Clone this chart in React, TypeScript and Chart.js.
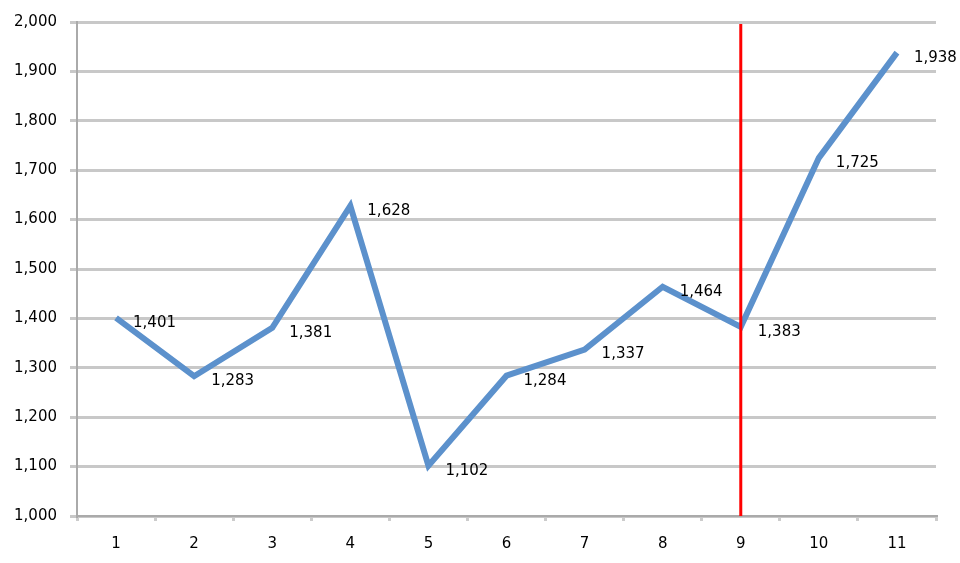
import React, { useEffect, useRef } from "react";
import { Chart, registerables } from "chart.js";

Chart.register(...registerables);

const categories = ["1", "2", "3", "4", "5", "6", "7", "8", "9", "10", "11"];
const values = [1401, 1283, 1381, 1628, 1102, 1284, 1337, 1464, 1383, 1725, 1938];
const markerCategory = "9";
const yMin = 1000;
const yMax = 2000;
const yStep = 100;

const FONT = "'DejaVu Sans', Verdana, sans-serif";

const fmt = (v: number) => v.toLocaleString("en-US");

const overlayPlugin = {
  id: "overlay",
  afterDatasetsDraw(chart: any) {
    const { ctx, chartArea, scales } = chart;
    const x = scales.x;
    const y = scales.y;
    ctx.save();
    // red marker line
    const idx = categories.indexOf(markerCategory);
    const mx = x.getPixelForValue(idx);
    ctx.strokeStyle = "#ff0000";
    ctx.lineWidth = 3;
    ctx.beginPath();
    ctx.moveTo(mx, chartArea.top + 2);
    ctx.lineTo(mx, chartArea.bottom);
    ctx.stroke();
    // data labels
    ctx.fillStyle = "#000";
    ctx.font = `15px ${FONT}`;
    ctx.textAlign = "left";
    ctx.textBaseline = "middle";
    values.forEach((v, i) => {
      const px = x.getPixelForValue(i);
      const py = y.getPixelForValue(v);
      ctx.fillText(fmt(v), px + 17, py + 5);
    });
    ctx.restore();
  },
};

export default function App() {
  const ref = useRef<HTMLCanvasElement | null>(null);
  useEffect(() => {
    if (!ref.current) return;
    const chart = new Chart(ref.current, {
      type: "line",
      data: {
        labels: categories,
        datasets: [
          {
            data: values,
            borderColor: "#5c91cc",
            borderWidth: 6,
            pointRadius: 0,
            tension: 0,
            fill: false,
            borderJoinStyle: "miter",
          },
        ],
      },
      options: {
        responsive: false,
        animation: false,
        devicePixelRatio: 1,
        layout: { padding: { top: 22, right: 24, left: 0, bottom: 0 } },
        plugins: { legend: { display: false }, tooltip: { enabled: false } },
        scales: {
          x: {
            type: "category",
            offset: true,
            grid: {
              display: true,
              offset: true,
              drawOnChartArea: false,
              drawTicks: true,
              tickLength: 5,
              color: "#cccccc",
              lineWidth: 3,
            },
            border: { display: true, color: "#aaaaaa", width: 2 },
            ticks: {
              color: "#000",
              font: { family: FONT, size: 15 },
              padding: 14,
              maxRotation: 0,
            },
            afterFit(scale: any) {
              scale.height = 47;
            },
          },
          y: {
            min: yMin,
            max: yMax,
            grid: {
              color: "#c8c8c8",
              lineWidth: 3,
              drawTicks: true,
              tickLength: 7,
            },
            border: { display: true, color: "#aaaaaa", width: 2 },
            ticks: {
              stepSize: yStep,
              color: "#000",
              font: { family: FONT, size: 15 },
              padding: 13,
              callback: (v: any) => fmt(Number(v)),
            },
            afterFit(scale: any) {
              scale.width = 77;
            },
          },
        },
      },
      plugins: [overlayPlugin],
    });
    return () => chart.destroy();
  }, []);
  return (
    <div style={{ position: "fixed", left: 0, top: 0, width: 960, height: 563, background: "#fff" }}>
      <canvas ref={ref} width={960} height={563} style={{ display: "block" }} />
    </div>
  );
}
